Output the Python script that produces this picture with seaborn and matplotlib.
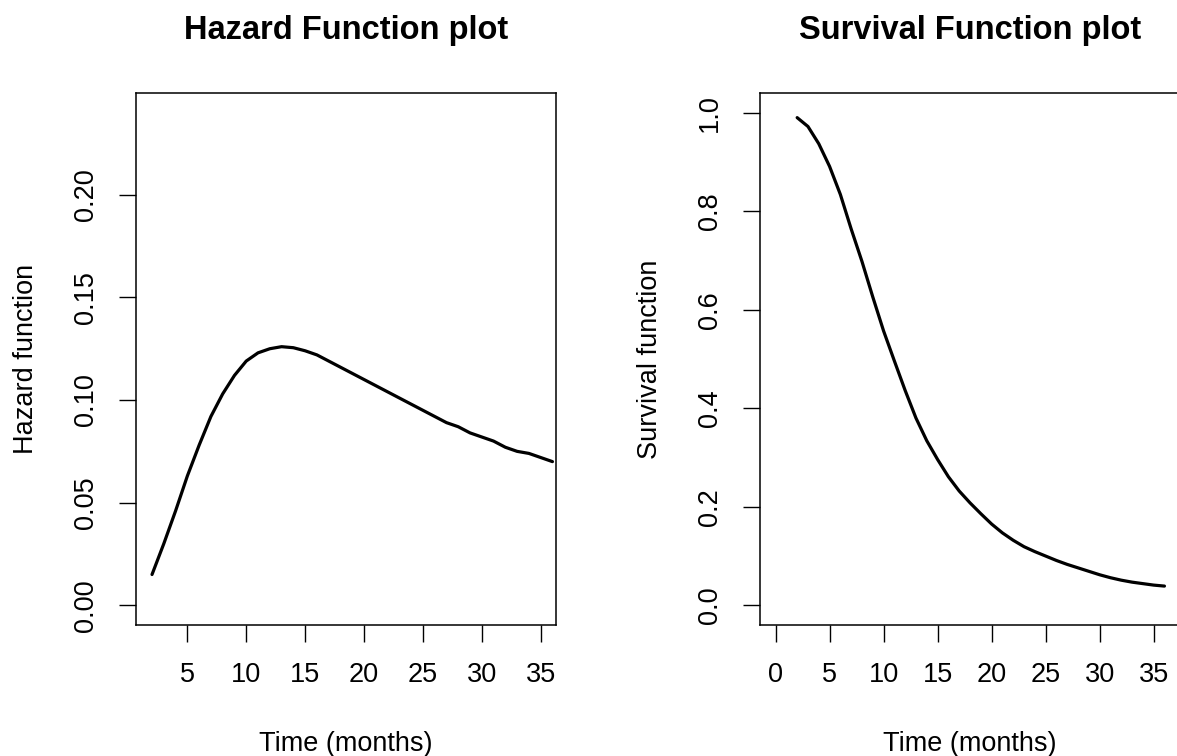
import numpy as np
import pandas as pd
import matplotlib
matplotlib.use("Agg")
import matplotlib.pyplot as plt
import seaborn as sns

# ---- data ----
months = [2, 3, 4, 5, 6, 7, 8, 9, 10, 11, 12, 13, 14, 15, 16, 17, 18, 19,
          20, 21, 22, 23, 24, 25, 26, 27, 28, 29, 30, 31, 32, 33, 34, 35, 36]
hazard = [0.015, 0.030, 0.046, 0.063, 0.078, 0.092, 0.103, 0.112, 0.119,
          0.123, 0.125, 0.126, 0.1255, 0.124, 0.122, 0.119, 0.116, 0.113,
          0.110, 0.107, 0.104, 0.101, 0.098, 0.095, 0.092, 0.089, 0.087,
          0.084, 0.082, 0.080, 0.077, 0.075, 0.074, 0.072, 0.070]
survival = [0.990, 0.972, 0.937, 0.891, 0.834, 0.764, 0.698, 0.626, 0.557,
            0.496, 0.436, 0.380, 0.334, 0.296, 0.261, 0.232, 0.208, 0.186,
            0.165, 0.147, 0.132, 0.119, 0.109, 0.100, 0.091, 0.083, 0.076,
            0.069, 0.062, 0.056, 0.051, 0.047, 0.044, 0.041, 0.039]
hz_xticks = [5, 10, 15, 20, 25, 30, 35]
hz_yticks = [0.00, 0.05, 0.10, 0.15, 0.20]
sv_xticks = [0, 5, 10, 15, 20, 25, 30, 35]
sv_yticks = [0.0, 0.2, 0.4, 0.6, 0.8, 1.0]
titles = ["Hazard Function plot", "Survival Function plot"]
ylabels = ["Hazard function", "Survival function"]
xlabel = "Time (months)"

df = pd.DataFrame({"month": months, "hazard": hazard, "survival": survival})

sns.set_theme(style="white")
plt.rcParams["font.family"] = ["Liberation Sans", "DejaVu Sans"]

W, H = 1177, 756
fig = plt.figure(figsize=(W / 100, H / 100), dpi=100)
fig.patch.set_facecolor("white")
ax1 = fig.add_axes([136 / W, 131 / H, 420 / W, 532 / H])
ax2 = fig.add_axes([760 / W, 131 / H, 420 / W, 532 / H])

sns.lineplot(data=df, x="month", y="hazard", ax=ax1, color="black", lw=2.3)
sns.lineplot(data=df, x="month", y="survival", ax=ax2, color="black", lw=2.3)

ax1.set_xlim(0.64, 36.3)
ax1.set_ylim(-0.0096, 0.2496)
ax2.set_xlim(-1.44, 37.44)
ax2.set_ylim(-0.04, 1.04)

ax1.set_xticks(hz_xticks)
ax1.set_xticklabels([str(v) for v in hz_xticks])
ax1.set_yticks(hz_yticks)
ax1.set_yticklabels([f"{v:.2f}" for v in hz_yticks], rotation=90, va="center")
ax2.set_xticks(sv_xticks)
ax2.set_xticklabels([str(v) for v in sv_xticks])
ax2.set_yticks(sv_yticks)
ax2.set_yticklabels([f"{v:.1f}" for v in sv_yticks], rotation=90, va="center")

for ax, title, yl in zip([ax1, ax2], titles, ylabels):
    ax.grid(False)
    for sp in ax.spines.values():
        sp.set_visible(True)
        sp.set_color("black")
        sp.set_linewidth(1.1)
    ax.tick_params(axis="x", bottom=True, direction="out", length=12, width=1.0,
                   color="black", labelsize=19.5, pad=15, labelcolor="black")
    ax.tick_params(axis="y", left=True, direction="out", length=12, width=1.0,
                   color="black", labelsize=19.5, pad=14.6, labelcolor="black")
    ax.set_title(title, fontsize=23.5, fontweight="bold", color="black",
                 y=1.117, pad=0, va="center")
    ax.set_xlabel(xlabel, fontsize=19.5, color="black")
    ax.xaxis.set_label_coords(0.5, -0.2237)
    ax.xaxis.label.set_va("center")
    ax.set_ylabel(yl, fontsize=19.5, color="black")
    ax.yaxis.set_label_coords(-0.263, 0.5)
    ax.yaxis.label.set_va("center")

fig.savefig("out.png", dpi=100, facecolor="white")
